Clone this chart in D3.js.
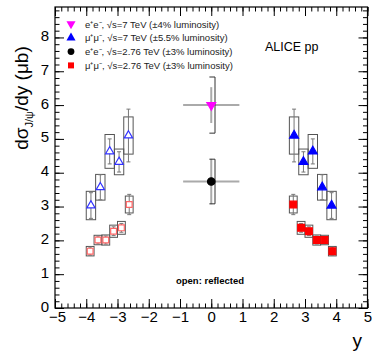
<!DOCTYPE html>
<html>
<head>
<meta charset="utf-8">
<script src="https://cdn.jsdelivr.net/npm/d3@7"></script>
<style>
  body { margin: 0; background: #fff; }
  svg { font-family: "Liberation Sans", Arial, sans-serif; }
  .axis path { display: none; }
  .axis line { stroke: #000; }
</style>
</head>
<body>
<svg id="chart" width="382" height="357"></svg>
<script>
// --- data ---
// mu+mu-, sqrt(s)=7 TeV (forward), mirrored as open markers at negative y
const yMu7 = [2.65, 2.95, 3.25, 3.55, 3.85];
const valMu7 = [5.10, 4.32, 4.63, 3.57, 3.03];
const statMu7 = [0.78, 0.30, 0.37, 0.37, 0.38];
const sysMu7 = [0.55, 0.38, 0.50, 0.38, 0.42];
const binMu7 = 0.15;

// mu+mu-, sqrt(s)=2.76 TeV
const yMu276 = [2.625, 2.875, 3.125, 3.375, 3.625, 3.875];
const valMu276 = [3.06, 2.37, 2.27, 2.01, 2.01, 1.68];
const statMu276 = [0.30, 0.13, 0.13, 0.12, 0.12, 0.12];
const sysMu276 = [0.25, 0.19, 0.18, 0.15, 0.14, 0.14];
const binMu276 = 0.125;

// e+e- at mid-rapidity
const yEE = [0, 0];
const valEE = [6.00, 3.74];
const statEE = [0.53, 0.67];
const sysEE = [0.83, 0.66];
const binEE = 0.9;

const xTicks = [-5, -4, -3, -2, -1, 0, 1, 2, 3, 4, 5];
const yTicks = [0, 1, 2, 3, 4, 5, 6, 7, 8];

const legendLabels = [
  "e\u207Ae\u207B, \u221As=7 TeV (\u00B14% luminosity)",
  "\u03BC\u207A\u03BC\u207B, \u221As=7 TeV (\u00B15.5% luminosity)",
  "e\u207Ae\u207B, \u221As=2.76 TeV (\u00B13% luminosity)",
  "\u03BC\u207A\u03BC\u207B, \u221As=2.76 TeV (\u00B13% luminosity)"
];

// --- layout ---
const svg = d3.select("#chart");
const frame = { left: 55, right: 367.5, top: 7, bottom: 308 };

const x = d3.scaleLinear().domain([-5, 5]).range([frame.left, frame.right]);
const y = d3.scaleLinear().domain([0, 8.9]).range([frame.bottom, frame.top]);

const minorX = d3.range(-5, 5.001, 0.2).map(v => +v.toFixed(1));
const minorY = d3.range(0, 8.9, 0.2).map(v => +v.toFixed(1));

// axes: major + minor ticks on all four sides, pointing inwards
function addAxis(axisFn, scale, tr, values, size, pad) {
  const a = axisFn(scale).tickValues(values).tickSizeInner(-size).tickSizeOuter(0)
    .tickPadding(pad || 0)
    .tickFormat(pad ? d3.format("d") : "");
  return svg.append("g").attr("class", "axis").attr("transform", tr).call(a);
}
addAxis(d3.axisBottom, x, `translate(0,${frame.bottom})`, minorX, 4.5);
const xAx = addAxis(d3.axisBottom, x, `translate(0,${frame.bottom})`, xTicks, 9, 4);
addAxis(d3.axisTop, x, `translate(0,${frame.top})`, minorX, 4.5);
addAxis(d3.axisTop, x, `translate(0,${frame.top})`, xTicks, 9);
addAxis(d3.axisLeft, y, `translate(${frame.left},0)`, minorY, 4.5);
const yAx = addAxis(d3.axisLeft, y, `translate(${frame.left},0)`, yTicks, 9, 6);
addAxis(d3.axisRight, y, `translate(${frame.right},0)`, minorY, 4.5);
addAxis(d3.axisRight, y, `translate(${frame.right},0)`, yTicks, 9);

xAx.selectAll("text").attr("font-size", 15).attr("fill", "#000").attr("dy", "0.65em")
  .attr("dx", d => d === -5 ? 2 : 0);
yAx.selectAll("text").attr("font-size", 15).attr("fill", "#000").attr("dy", "0.2em");

svg.append("rect")
  .attr("x", frame.left).attr("y", frame.top)
  .attr("width", frame.right - frame.left).attr("height", frame.bottom - frame.top)
  .attr("fill", "none").attr("stroke", "#000").attr("stroke-width", 1.2);

// axis titles
svg.append("text").attr("x", 362).attr("y", 347).attr("text-anchor", "end")
  .attr("font-size", 19).text("y");

const yt = svg.append("text")
  .attr("transform", "translate(28,98) rotate(-90)")
  .attr("text-anchor", "middle").attr("font-size", 19);
yt.append("tspan").text("d\u03C3");
yt.append("tspan").attr("font-size", 11).attr("dy", 5).text("J/\u03C8");
yt.append("tspan").attr("dy", -5).text("/dy (\u03BCb)");

// --- drawing helpers ---
function sysBox(cx, v, s, hw, color) {
  svg.append("rect")
    .attr("x", x(cx - hw)).attr("y", y(v + s))
    .attr("width", x(cx + hw) - x(cx - hw)).attr("height", y(v - s) - y(v + s))
    .attr("fill", "none").attr("stroke", color).attr("stroke-width", 1);
}
function statBar(cx, v, s, color) {
  const g = svg.append("g").attr("stroke", color).attr("stroke-width", 1);
  g.append("line").attr("x1", x(cx)).attr("x2", x(cx)).attr("y1", y(v + s)).attr("y2", y(v - s));
  [v + s, v - s].forEach(e => {
    g.append("line").attr("x1", x(cx) - 2).attr("x2", x(cx) + 2).attr("y1", y(e)).attr("y2", y(e));
  });
}
function marker(type, cx, v, fill, stroke, size, rot) {
  svg.append("path")
    .attr("d", d3.symbol().type(type).size(size)())
    .attr("transform", `translate(${x(cx)},${y(v)})${rot ? " rotate(180)" : ""}`)
    .attr("fill", fill).attr("stroke", stroke).attr("stroke-width", 1.2);
}

// forward rapidity: measured (full) and reflected (open)
[1, -1].forEach(sign => {
  const open = sign < 0;
  yMu7.forEach((cy, i) => {
    sysBox(sign * cy, valMu7[i], sysMu7[i], binMu7, "#555");
    statBar(sign * cy, valMu7[i], statMu7[i], "#777");
  });
  yMu276.forEach((cy, i) => {
    sysBox(sign * cy, valMu276[i], sysMu276[i], binMu276, "#555");
    statBar(sign * cy, valMu276[i], statMu276[i], "#777");
  });
  yMu7.forEach((cy, i) => {
    marker(d3.symbolTriangle, sign * cy, valMu7[i], open ? "#fff" : "#0000ff", open ? "#3333ff" : "#0000ff", open ? 30 : 34, false);
  });
  yMu276.forEach((cy, i) => {
    marker(d3.symbolSquare, sign * cy, valMu276[i], open ? "#fff" : "#ff0000", open ? "#ff6666" : "#ff0000", open ? 34 : 46, false);
  });
});

// mid-rapidity e+e-: x-bin and stat in grey, syst as bracket
const eeColors = ["#ff00ff", "#000"];
yEE.forEach((cy, i) => {
  const v = valEE[i];
  const g = svg.append("g").attr("stroke", "#aaa").attr("stroke-width", 2);
  g.append("line").attr("x1", x(cy - binEE)).attr("x2", x(cy + binEE)).attr("y1", y(v)).attr("y2", y(v));
  g.append("line").attr("x1", x(cy)).attr("x2", x(cy)).attr("y1", y(v + statEE[i])).attr("y2", y(v - statEE[i]));
  const p = d3.path();
  p.moveTo(x(cy - 0.06), y(v + sysEE[i]));
  p.lineTo(x(cy + 0.12), y(v + sysEE[i]));
  p.lineTo(x(cy + 0.12), y(v - sysEE[i]));
  p.lineTo(x(cy - 0.06), y(v - sysEE[i]));
  svg.append("path").attr("d", p.toString()).attr("fill", "none").attr("stroke", "#333").attr("stroke-width", 1);
});
marker(d3.symbolTriangle, yEE[0], valEE[0], eeColors[0], eeColors[0], 34, true);
marker(d3.symbolCircle, yEE[1], valEE[1], eeColors[1], eeColors[1], 44, false);

// legend
const legTypes = [d3.symbolTriangle, d3.symbolTriangle, d3.symbolCircle, d3.symbolSquare];
const legColors = ["#ff00ff", "#0000ff", "#000", "#ff0000"];
legendLabels.forEach((lab, i) => {
  const ly = 24 + i * 13.8;
  svg.append("path")
    .attr("d", d3.symbol().type(legTypes[i]).size(36)())
    .attr("transform", `translate(71,${ly})${i === 0 ? " rotate(180)" : ""}`)
    .attr("fill", legColors[i]);
  svg.append("text").attr("x", 85).attr("y", ly + 3.5).attr("font-size", 9.5).attr("fill", "#222").text(lab);
});

svg.append("text").attr("x", 265).attr("y", 51).attr("font-size", 12.5).text("ALICE pp");
svg.append("text").attr("x", 210).attr("y", 284).attr("text-anchor", "middle")
  .attr("font-size", 9.5).attr("font-weight", "bold").text("open: reflected");
</script>
</body>
</html>
